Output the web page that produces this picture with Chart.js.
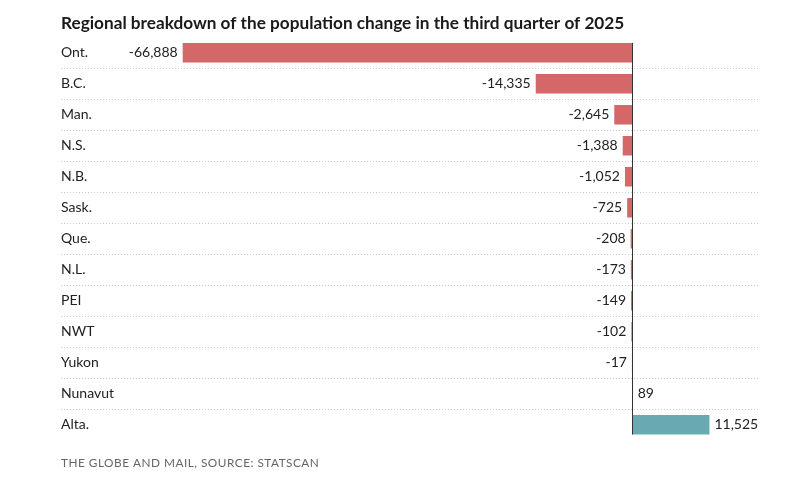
<!DOCTYPE html>
<html><head><meta charset="utf-8">
<script src="https://cdn.jsdelivr.net/npm/chart.js@4"></script>
<style>html,body{margin:0;padding:0;background:#fff;}#wrap{width:798px;height:484px;position:relative;}</style>
</head><body><div id="wrap"><canvas id="c"></canvas></div>
<script>
const titleText = "Regional breakdown of the population change in the third quarter of 2025";
const footerText = "THE GLOBE AND MAIL, SOURCE: STATSCAN";
const regions = ["Ont.","B.C.","Man.","N.S.","N.B.","Sask.","Que.","N.L.","PEI","NWT","Yukon","Nunavut","Alta."];
const changes = [-66888,-14335,-2645,-1388,-1052,-725,-208,-173,-149,-102,-17,89,11525];
const xMin = -85000, xMax = 18900;

const fmt = v => (v<0?"-":"") + Math.abs(v).toLocaleString("en-US");

const textPlugin = {
  id: 'texts',
  afterDatasetsDraw(chart) {
    const ctx = chart.ctx;
    const meta = chart.getDatasetMeta(0);
    const xs = chart.scales.x;
    ctx.save();
    // zero line
    const z = Math.round(xs.getPixelForValue(0)) + 0.5;
    const first = meta.data[0], last = meta.data[meta.data.length-1];
    ctx.strokeStyle = '#333'; ctx.lineWidth = 1;
    ctx.beginPath();
    ctx.moveTo(z, first.y - first.height/2);
    ctx.lineTo(z, last.y + last.height/2);
    ctx.stroke();
    // value labels
    ctx.font = "14px Lato";
    ctx.fillStyle = '#222';
    ctx.textBaseline = 'middle';
    meta.data.forEach((bar, i) => {
      const v = changes[i];
      if (v < 0) { ctx.textAlign = 'right'; ctx.fillText(fmt(v), bar.x - 5, bar.y); }
      else { ctx.textAlign = 'left'; ctx.fillText(fmt(v), bar.x + 5, bar.y); }
    });
    // title (sized to span the same width as the original)
    ctx.textAlign = 'left'; ctx.textBaseline = 'alphabetic';
    ctx.fillStyle = '#1a1a1a';
    ctx.font = "bold 17px Lato";
    const tw = ctx.measureText(titleText).width;
    const ts = Math.min(17.5, 17 * 564 / tw);
    ctx.font = "bold " + ts.toFixed(2) + "px Lato";
    ctx.fillText(titleText, 61, 29.3);
    // footer
    ctx.fillStyle = '#666';
    ctx.font = "11.8px Lato";
    ctx.letterSpacing = '0.5px';
    ctx.fillText(footerText, 61, 467);
    ctx.restore();
  }
};

new Chart(document.getElementById('c'), {
  type: 'bar',
  data: {
    labels: regions,
    datasets: [{
      data: changes,
      backgroundColor: changes.map(v => v < 0 ? '#d46868' : '#69a9b1'),
      categoryPercentage: 1,
      barPercentage: 0.63,
      borderWidth: 0
    }]
  },
  options: {
    indexAxis: 'y',
    responsive: true,
    maintainAspectRatio: false,
    animation: false,
    devicePixelRatio: 1,
    layout: { padding: { left: 61, right: 39, top: 37.2, bottom: 43.8 } },
    plugins: { legend: { display: false }, tooltip: { enabled: false }, title: { display: false } },
    scales: {
      x: {
        type: 'linear', min: xMin, max: xMax,
        display: true,
        ticks: { display: false },
        grid: { display: false, drawTicks: false },
        border: { display: false }
      },
      y: {
        type: 'category',
        ticks: { mirror: true, padding: 0, color: '#222', font: { family: 'Lato', size: 14 } },
        grid: {
          offset: true, drawTicks: false, lineWidth: 1,
          color: ctx => (ctx.type !== 'tick' || ctx.index === 0) ? 'rgba(0,0,0,0)' : '#cccccc'
        },
        border: { display: false, dash: [1, 2] }
      }
    }
  },
  plugins: [textPlugin]
});
</script></body></html>
